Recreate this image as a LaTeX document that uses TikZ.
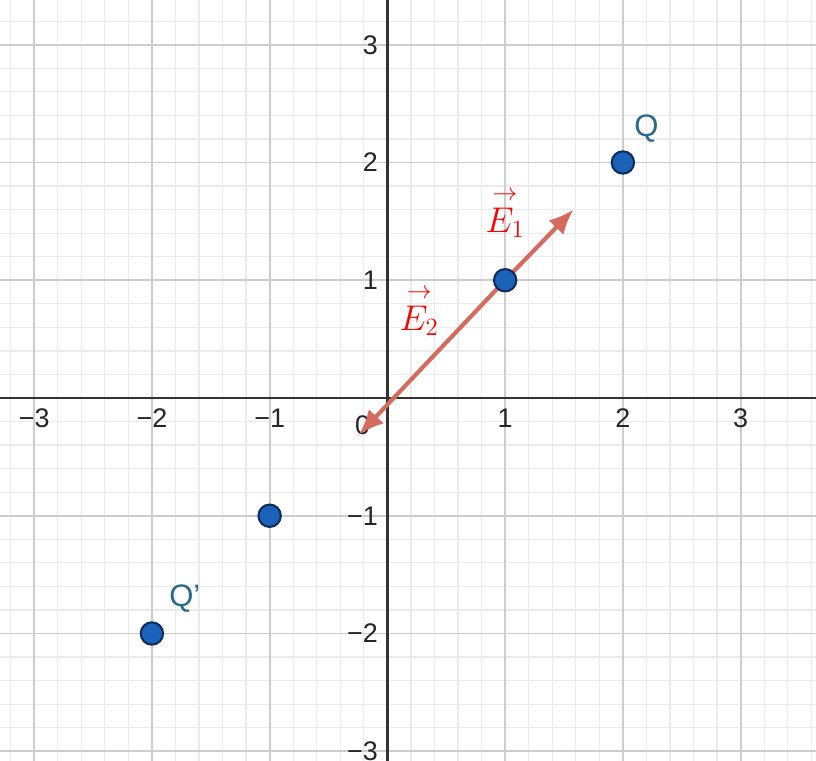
\documentclass[tikz,border=0pt]{standalone}
\usepackage{amsmath}
\usepackage{fontspec}
\setmainfont{Liberation Sans}
\usetikzlibrary{arrows.meta}
\definecolor{ptblue}{HTML}{1B62B8}
\definecolor{ptedge}{HTML}{0E2D5C}
\definecolor{qblue}{HTML}{2B6A8C}
\definecolor{vecred}{HTML}{D56A5E}
\definecolor{minorgrid}{HTML}{EBEBEB}
\definecolor{majorgrid}{HTML}{CDCDCD}
\tikzset{
  pt/.style={circle,fill=ptblue,draw=ptedge,line width=1pt,minimum size=3.8mm,inner sep=0pt},
  vecarr/.style={vecred,line width=2pt,-{Latex[length=12pt,width=10pt]}},
  ticklbl/.style={font=\fontsize{13}{15}\selectfont,text=black!85,inner sep=1pt},
  qlbl/.style={font=\fontsize{15}{17}\selectfont,text=qblue},
  elbl/.style={text=red,font=\fontsize{18}{20}\selectfont}
}
\begin{document}
\begin{tikzpicture}[x=2cm,y=2cm,>=latex]
\useasboundingbox (-3.29,-3.08) rectangle (3.64,3.38);
\clip (-3.29,-3.08) rectangle (3.64,3.38);
\fill[white] (-3.29,-3.08) rectangle (3.64,3.38);
% grid
\draw[minorgrid,line width=0.6pt,step=0.2] (-3.4,-3.2) grid (3.8,3.6);
\draw[majorgrid,line width=0.9pt,step=1] (-3.4,-3.2) grid (3.8,3.6);
% axes
\draw[black!80,line width=1.1pt] (-3.4,0)--(3.8,0);
\draw[black!80,line width=1.1pt] (0,-3.2)--(0,3.6);
\foreach \x/\t in {-3/−3,-2/−2,-1/−1,1/1,2/2,3/3}
  \node[ticklbl,anchor=north] (xt\x) at (\x,-0.07) {\t};
\foreach \y/\t in {-3/−3,-2/−2,-1/−1,1/1,2/2,3/3}
  \node[ticklbl,anchor=east] (yt\y) at (-0.06,\y) {\t};
\node[ticklbl] (orig) at (-0.21,-0.23) {0};
% vectors
\coordinate (P) at (1,1);
\coordinate (e1tip) at (1.58,1.6);
\coordinate (e2tip) at (-0.24,-0.31);
\draw[vecarr] (P)--(e1tip);
\draw[vecarr] (P)--(e2tip);
\node[elbl] (E1) at (1.0,1.57) {$\overset{\rightarrow}{E_1}$};
\node[elbl] (E2) at (0.27,0.74) {$\overset{\rightarrow}{E_2}$};
% points
\node[pt] (p1) at (P) {};
\node[pt] (q) at (2,2) {};
\node[pt] (pm1) at (-1,-1) {};
\node[pt] (qq) at (-2,-2) {};
\node[qlbl] (qname) at (2.2,2.29) {Q};
\node[qlbl] (qqname) at (-1.72,-1.7) {Q'};
\end{tikzpicture}
\end{document}
